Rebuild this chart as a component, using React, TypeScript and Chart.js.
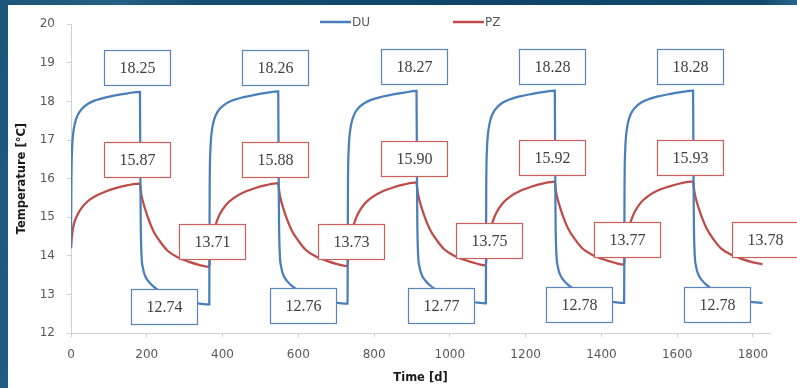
import React, { useEffect, useRef } from "react";
import { Chart, registerables } from "chart.js";

Chart.register(...registerables);

// ---- data ----
const SERIES_NAMES = ["DU", "PZ"];

const DAYS = [
  0, 1, 3, 5, 10, 18, 28, 45, 65, 90, 120, 150, 182, 183, 184, 186, 190, 196, 205, 218, 235, 255, 280, 310, 340,
  365, 366, 368, 370, 375, 383, 393, 410, 430, 455, 485, 515, 547, 548, 549, 551, 555, 561, 570, 583, 600, 620, 645, 675, 705,
  730, 731, 733, 735, 740, 748, 758, 775, 795, 820, 850, 880, 912, 913, 914, 916, 920, 926, 935, 948, 965, 985, 1010, 1040, 1070,
  1095, 1096, 1098, 1100, 1105, 1113, 1123, 1140, 1160, 1185, 1215, 1245, 1277, 1278, 1279, 1281, 1285, 1291, 1300, 1313, 1330, 1350, 1375, 1405, 1435,
  1460, 1461, 1463, 1465, 1470, 1478, 1488, 1505, 1525, 1550, 1580, 1610, 1642, 1643, 1644, 1646, 1650, 1656, 1665, 1678, 1695, 1715, 1740, 1770, 1800,
  1825,
];

const DU = [
  14.2, 15.9, 16.8, 17.1, 17.42, 17.65, 17.8, 17.94, 18.03, 18.1, 18.16, 18.21, 18.25, 16.3, 14.9, 14.05, 13.68, 13.47, 13.33, 13.2, 13.08, 12.97, 12.87, 12.8, 12.76,
  12.74, 15.7, 16.75, 17.08, 17.42, 17.66, 17.81, 17.95, 18.04, 18.11, 18.17, 18.22, 18.26, 16.3, 14.92, 14.07, 13.7, 13.49, 13.35, 13.22, 13.1, 12.99, 12.89, 12.82, 12.78,
  12.76, 15.7, 16.76, 17.09, 17.43, 17.67, 17.82, 17.96, 18.05, 18.12, 18.18, 18.23, 18.27, 16.3, 14.93, 14.08, 13.71, 13.5, 13.36, 13.23, 13.11, 13.0, 12.9, 12.83, 12.79,
  12.77, 15.7, 16.77, 17.1, 17.44, 17.68, 17.83, 17.97, 18.06, 18.13, 18.19, 18.24, 18.28, 16.3, 14.94, 14.09, 13.72, 13.51, 13.37, 13.24, 13.12, 13.01, 12.91, 12.84, 12.8,
  12.78, 15.7, 16.77, 17.1, 17.44, 17.68, 17.83, 17.97, 18.06, 18.13, 18.19, 18.24, 18.28, 16.3, 14.94, 14.09, 13.72, 13.51, 13.37, 13.24, 13.12, 13.01, 12.91, 12.84, 12.8,
  12.78,
];

const PZ = [
  14.2, 14.35, 14.55, 14.7, 14.9, 15.08, 15.24, 15.42, 15.55, 15.66, 15.76, 15.83, 15.87, 15.8, 15.71, 15.57, 15.4, 15.2, 14.94, 14.63, 14.37, 14.13, 13.97, 13.85, 13.76,
  13.71, 13.86, 14.08, 14.26, 14.55, 14.84, 15.08, 15.33, 15.5, 15.64, 15.75, 15.83, 15.88, 15.81, 15.72, 15.58, 15.41, 15.21, 14.95, 14.65, 14.39, 14.15, 13.99, 13.87, 13.78,
  13.73, 13.88, 14.1, 14.28, 14.57, 14.86, 15.1, 15.35, 15.52, 15.66, 15.77, 15.85, 15.9, 15.83, 15.74, 15.6, 15.43, 15.23, 14.97, 14.67, 14.41, 14.17, 14.01, 13.89, 13.8,
  13.75, 13.9, 14.12, 14.3, 14.59, 14.88, 15.12, 15.37, 15.54, 15.68, 15.79, 15.87, 15.92, 15.85, 15.76, 15.62, 15.45, 15.25, 14.99, 14.69, 14.43, 14.19, 14.03, 13.91, 13.82,
  13.77, 13.92, 14.14, 14.32, 14.61, 14.9, 15.14, 15.39, 15.56, 15.7, 15.8, 15.88, 15.93, 15.86, 15.77, 15.63, 15.46, 15.26, 15.0, 14.7, 14.44, 14.2, 14.04, 13.92, 13.83,
  13.78,
];

// days whose values are labelled
const PEAK_DAYS = [182, 547, 912, 1277, 1642];
const LOW_DAYS = [365, 730, 1095, 1460, 1825];

const X_TICKS = [0, 200, 400, 600, 800, 1000, 1200, 1400, 1600, 1800];
const Y_TICKS = [12, 13, 14, 15, 16, 17, 18, 19, 20];
const X_TITLE = "Time [d]";
const Y_TITLE = "Temperature [°C]";

// ---- styles ----
const DU_LINE = "#4a7ebb";
const PZ_LINE = "#be4b48";
const DU_BOX = "#5a84bb";
const PZ_BOX = "#c8605d";
const AXIS_COLOR = "#d0d0d0";
const TICK_COLOR = "#595959";
const TICK_FONT = { family: "'DejaVu Sans', sans-serif", size: 12 };
const TITLE_FONT = { family: "'DejaVu Sans', sans-serif", size: 11.5, weight: "bold" as const };

const boxLabelPlugin = {
  id: "boxLabels",
  afterDatasetsDraw(chart: any) {
    const ctx = chart.ctx as CanvasRenderingContext2D;
    const xs = chart.scales.x;
    const ys = chart.scales.y;
    const w = 66;
    const h = 35;
    const draw = (day: number, values: number[], color: string, where: string) => {
      const i = DAYS.indexOf(day);
      if (i < 0) return;
      const v = values[i];
      const px = xs.getPixelForValue(day);
      const py = ys.getPixelForValue(v);
      let cx = px;
      let cy = py;
      if (where === "peak") {
        cx = px - 3;
        cy = py - 24;
      } else if (where === "lowAbove") {
        cx = px + 3;
        cy = py - 25;
      } else {
        cx = px - 45;
        cy = py + 2;
      }
      const x0 = Math.round(cx - w / 2) + 0.5;
      const y0 = Math.round(cy - h / 2) + 0.5;
      ctx.save();
      ctx.fillStyle = "#ffffff";
      ctx.fillRect(x0, y0, w, h);
      ctx.strokeStyle = color;
      ctx.lineWidth = 1.2;
      ctx.strokeRect(x0, y0, w, h);
      ctx.fillStyle = "#404040";
      ctx.font = "16px 'Liberation Serif', 'Times New Roman', serif";
      ctx.textAlign = "center";
      ctx.textBaseline = "middle";
      ctx.fillText(v.toFixed(2), x0 + w / 2, y0 + h / 2 + 1);
      ctx.restore();
    };
    PEAK_DAYS.forEach((d) => draw(d, DU, DU_BOX, "peak"));
    LOW_DAYS.forEach((d) => draw(d, DU, DU_BOX, "left"));
    PEAK_DAYS.forEach((d) => draw(d, PZ, PZ_BOX, "peak"));
    LOW_DAYS.forEach((d) => draw(d, PZ, PZ_BOX, "lowAbove"));
  },
};

const legendPlugin = {
  id: "topLegend",
  afterDraw(chart: any) {
    const ctx = chart.ctx as CanvasRenderingContext2D;
    const items = [
      { name: SERIES_NAMES[0], color: DU_LINE, x: 312 },
      { name: SERIES_NAMES[1], color: PZ_LINE, x: 445 },
    ];
    const y = 17;
    ctx.save();
    items.forEach((it) => {
      ctx.strokeStyle = it.color;
      ctx.lineWidth = 2.5;
      ctx.beginPath();
      ctx.moveTo(it.x, y);
      ctx.lineTo(it.x + 31, y);
      ctx.stroke();
      ctx.fillStyle = TICK_COLOR;
      ctx.font = "12px 'DejaVu Sans', sans-serif";
      ctx.textAlign = "left";
      ctx.textBaseline = "middle";
      ctx.fillText(it.name, it.x + 32, y + 1);
    });
    ctx.restore();
  },
};

export default function App() {
  const canvasRef = useRef<HTMLCanvasElement | null>(null);

  useEffect(() => {
    const canvas = canvasRef.current;
    if (!canvas) return;
    const chart = new Chart(canvas, {
      type: "line",
      data: {
        datasets: [
          {
            label: SERIES_NAMES[0],
            data: DAYS.map((d, i) => ({ x: d, y: DU[i] })),
            borderColor: DU_LINE,
            borderWidth: 2.25,
            pointRadius: 0,
            cubicInterpolationMode: "monotone",
            fill: false,
          },
          {
            label: SERIES_NAMES[1],
            data: DAYS.map((d, i) => ({ x: d, y: PZ[i] })),
            borderColor: PZ_LINE,
            borderWidth: 2.25,
            pointRadius: 0,
            cubicInterpolationMode: "monotone",
            fill: false,
          },
        ],
      },
      options: {
        animation: false,
        responsive: false,
        maintainAspectRatio: false,
        layout: { padding: { left: 0, right: 27, top: 16, bottom: 0 } },
        plugins: { legend: { display: false }, tooltip: { enabled: false } },
        scales: {
          x: {
            type: "linear",
            min: 0,
            max: 1845,
            afterBuildTicks: (s: any) => {
              s.ticks = X_TICKS.map((v) => ({ value: v }));
            },
            afterFit: (s: any) => {
              s.height = 55;
            },
            ticks: {
              font: TICK_FONT,
              color: TICK_COLOR,
              padding: 11,
              maxRotation: 0,
              autoSkip: false,
              callback: (v: any) => String(v),
            },
            grid: { drawOnChartArea: false, drawTicks: true, tickLength: 4, color: AXIS_COLOR },
            border: { color: AXIS_COLOR, width: 1 },
            title: {
              display: true,
              text: X_TITLE,
              font: TITLE_FONT,
              color: "#1a1a1a",
              padding: { top: 0, bottom: 3 },
            },
          },
          y: {
            type: "linear",
            min: 12,
            max: 20,
            afterBuildTicks: (s: any) => {
              s.ticks = Y_TICKS.map((v) => ({ value: v }));
            },
            afterFit: (s: any) => {
              s.width = 63;
            },
            ticks: { font: TICK_FONT, color: TICK_COLOR, padding: 12, callback: (v: any) => String(v) },
            grid: { drawOnChartArea: false, drawTicks: true, tickLength: 4, color: AXIS_COLOR },
            border: { color: AXIS_COLOR, width: 1 },
            title: {
              display: true,
              text: Y_TITLE,
              font: TITLE_FONT,
              color: "#1a1a1a",
              padding: { top: 7, bottom: 0 },
            },
          },
        },
      },
      plugins: [boxLabelPlugin, legendPlugin],
    } as any);
    return () => chart.destroy();
  }, []);

  return (
    <div
      style={{
        position: "fixed",
        left: 0,
        top: 0,
        width: 797,
        height: 388,
        overflow: "hidden",
        background:
          "linear-gradient(100deg, #1d5579 0%, #235f86 14%, #154b70 24%, #0f4468 60%, #124a6f 88%, #2f6f98 94%, #4d8ab0 100%)",
      }}
    >
      <div
        style={{
          position: "absolute",
          left: 8,
          top: 5,
          width: 789,
          height: 383,
          background: "#ffffff",
        }}
      >
        <canvas ref={canvasRef} width={789} height={383} style={{ display: "block" }} />
      </div>
    </div>
  );
}
